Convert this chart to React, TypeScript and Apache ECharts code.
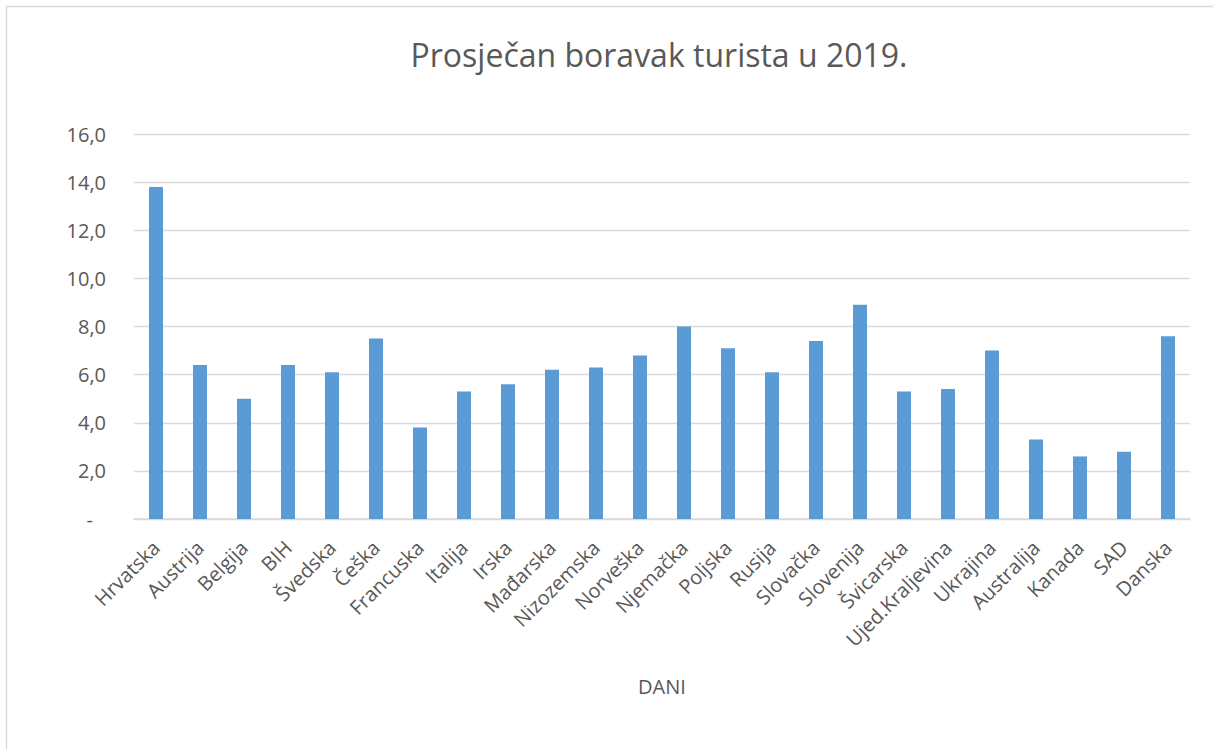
import React, { useEffect, useRef } from "react";
import * as echarts from "echarts";

const titleText = "Prosječan boravak turista u 2019.";
const axisName = "DANI";
const categories = [
  "Hrvatska", "Austrija", "Belgija", "BIH", "Švedska", "Češka", "Francuska", "Italija",
  "Irska", "Mađarska", "Nizozemska", "Norveška", "Njemačka", "Poljska", "Rusija", "Slovačka",
  "Slovenija", "Švicarska", "Ujed.Kraljevina", "Ukrajina", "Australija", "Kanada", "SAD", "Danska",
];
const values = [
  13.8, 6.4, 5.0, 6.4, 6.1, 7.5, 3.8, 5.3,
  5.6, 6.2, 6.3, 6.8, 8.0, 7.1, 6.1, 7.4,
  8.9, 5.3, 5.4, 7.0, 3.3, 2.6, 2.8, 7.6,
];
const yMin = 0;
const yMax = 16;
const yStep = 2;

export default function App() {
  const ref = useRef<HTMLDivElement>(null);
  useEffect(() => {
    if (!ref.current) return;
    const chart = echarts.init(ref.current, undefined, { renderer: "svg" });
    const font = "'Open Sans', sans-serif";
    const grey = "#595959";
    chart.setOption({
      animation: false,
      backgroundColor: "#ffffff",
      title: {
        text: titleText,
        left: 654,
        top: 33,
        textAlign: "center",
        textStyle: { fontFamily: font, fontSize: 32, fontWeight: "normal", color: grey },
      },
      graphic: [
        {
          type: "rect",
          shape: { x: 6.5, y: 6.5, width: 1240, height: 780 },
          style: { fill: "none", stroke: "#d9d9d9", lineWidth: 1.3 },
          silent: true,
        },
      ],
      grid: { left: 134, right: 23, top: 134, bottom: 230, containLabel: false },
      xAxis: {
        type: "category",
        data: categories,
        name: axisName,
        nameLocation: "middle",
        nameGap: 157,
        nameTextStyle: { fontFamily: font, fontSize: 20, color: grey },
        axisLine: { lineStyle: { color: "#d9d9d9", width: 1.5 } },
        axisTick: { show: false },
        axisLabel: {
          interval: 0,
          rotate: 45,
          margin: 25,
          fontFamily: font,
          fontSize: 20,
          color: grey,
        },
      },
      yAxis: {
        type: "value",
        min: yMin,
        max: yMax,
        interval: yStep,
        axisLine: { show: false },
        axisTick: { show: false },
        splitLine: { lineStyle: { color: "#d9d9d9", width: 1.3 } },
        axisLabel: {
          margin: 28,
          fontFamily: font,
          fontSize: 20,
          color: grey,
          formatter: (v: number) =>
            v === 0 ? "{d|-}" : v.toFixed(1).replace(".", ","),
          rich: {
            d: { fontFamily: font, fontSize: 20, color: grey, padding: [0, 13, 0, 0] },
          },
        },
      },
      series: [
        {
          type: "bar",
          data: values,
          barWidth: 14,
          itemStyle: { color: "#5b9bd5" },
        },
      ],
    });
    return () => chart.dispose();
  }, []);
  return (
    <div
      ref={ref}
      style={{ position: "absolute", left: 0, top: 0, width: 1213, height: 749 }}
    />
  );
}
